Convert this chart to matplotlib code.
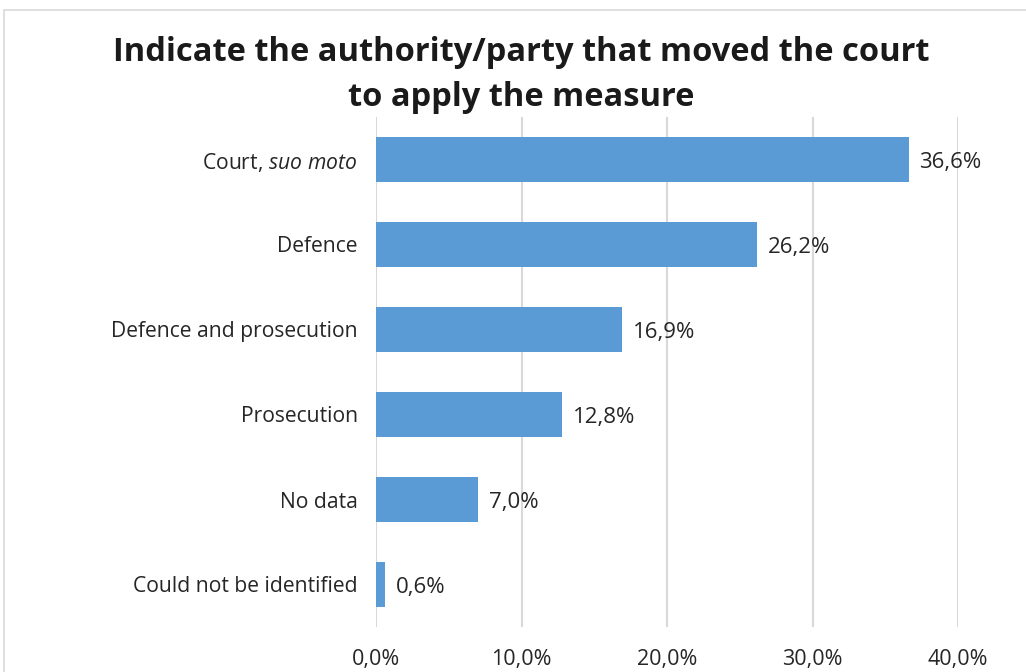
import matplotlib
matplotlib.use("Agg")
import matplotlib.pyplot as plt
import matplotlib.patches as mpatches

plt.rcParams["font.family"] = ["Open Sans", "DejaVu Sans"]
plt.rcParams["mathtext.fontset"] = "custom"
plt.rcParams["mathtext.rm"] = "Open Sans"
plt.rcParams["mathtext.it"] = "Open Sans:italic"

title = "Indicate the authority/party that moved the court\nto apply the measure"
categories = [
    r"Court, $\mathit{suo\ moto}$",
    "Defence",
    "Defence and prosecution",
    "Prosecution",
    "No data",
    "Could not be identified",
]
values = [36.6, 26.2, 16.9, 12.8, 7.0, 0.6]
xticks = [0, 10, 20, 30, 40]

fig = plt.figure(figsize=(10.26, 6.72), dpi=100)

# light frame round the chart (cropped at right and bottom)
fig.patches.append(mpatches.Rectangle(
    (4 / 1026, -0.05), 1.1, 1 - 10 / 672 + 0.05,
    transform=fig.transFigure, fill=False, edgecolor="#d9d9d9", linewidth=1.2))

ax = fig.add_axes([376 / 1026, 1 - 627 / 672, (958 - 376) / 1026, (627 - 117) / 672])
ypos = list(range(len(categories)))
ax.barh(ypos, values, height=0.54, color="#5b9bd5", zorder=3)
for y, v in zip(ypos, values):
    ax.text(v + 0.75, y + 0.03, f"{v:.1f}%".replace(".", ","), va="center", ha="left",
            fontsize=16, color="#262626")

ax.set_xlim(0, 40)
ax.set_ylim(len(categories) - 0.5, -0.5)
ax.set_yticks(ypos)
ax.set_yticklabels(categories, fontsize=15.2, color="#262626")
ax.set_xticks(xticks)
ax.set_xticklabels([f"{t:.1f}%".replace(".", ",") for t in xticks], fontsize=15.5, color="#262626")
ax.tick_params(axis="y", length=0, pad=13)
ax.tick_params(axis="x", length=0, pad=16)
ax.grid(axis="x", color="#d9d9d9", linewidth=1.5, zorder=0)
for s in ax.spines.values():
    s.set_visible(False)

fig.text(521 / 1026, 1 - 75 / 672, title, ha="center", va="center", fontsize=23.5,
         fontweight="bold", color="#1a1a1a", linespacing=1.45)

fig.savefig("out.png", dpi=100)
